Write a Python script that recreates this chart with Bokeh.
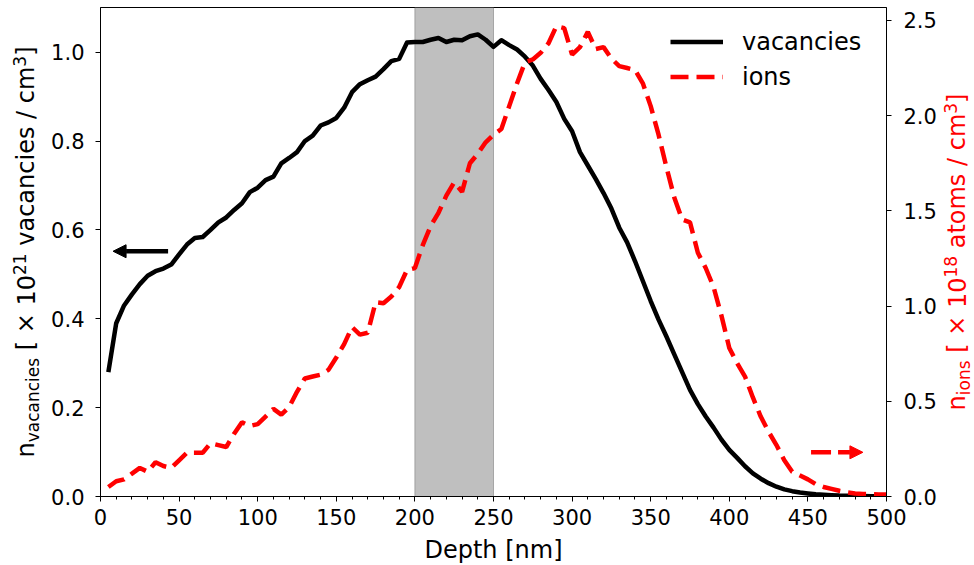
import math
from bokeh.plotting import figure
from bokeh.layouts import row
from bokeh.models import (Range1d, LinearAxis, FixedTicker, SingleIntervalTicker,
                          PrintfTickFormatter, BoxAnnotation, Arrow, NormalHead,
                          Legend, LegendItem, Label)
from bokeh.embed import file_html
from bokeh.resources import INLINE

# ---------------- data ----------------
depth_nm = [5, 10, 15, 20, 25, 30, 35, 40, 45, 50,
            55, 60, 65, 70, 75, 80, 85, 90, 95, 100,
            105, 110, 115, 120, 125, 130, 135, 140, 145, 150,
            155, 160, 165, 170, 175, 180, 185, 190, 195, 200,
            205, 210, 215, 220, 225, 230, 235, 240, 245, 250,
            255, 260, 265, 270, 275, 280, 285, 290, 295, 300,
            305, 310, 315, 320, 325, 330, 335, 340, 345, 350,
            355, 360, 365, 370, 375, 380, 385, 390, 395, 400,
            405, 410, 415, 420, 425, 430, 435, 440, 445, 450,
            455, 460, 465, 470, 475, 480, 485, 490, 495, 500]

vacancies = [0.280, 0.390, 0.430, 0.455, 0.478, 0.497, 0.507, 0.513, 0.522, 0.545,
             0.567, 0.582, 0.584, 0.600, 0.617, 0.628, 0.645, 0.660, 0.685, 0.695,
             0.712, 0.720, 0.750, 0.762, 0.775, 0.800, 0.812, 0.835, 0.842, 0.852,
             0.875, 0.910, 0.928, 0.937, 0.945, 0.962, 0.980, 0.985, 1.022, 1.023,
             1.023, 1.028, 1.032, 1.023, 1.028, 1.027, 1.036, 1.040, 1.028, 1.012,
             1.027, 1.016, 1.006, 0.990, 0.970, 0.940, 0.915, 0.888, 0.850, 0.822,
             0.775, 0.745, 0.715, 0.683, 0.648, 0.605, 0.572, 0.530, 0.485, 0.440,
             0.398, 0.360, 0.320, 0.280, 0.240, 0.208, 0.180, 0.155, 0.128, 0.105,
             0.087, 0.068, 0.052, 0.040, 0.030, 0.022, 0.016, 0.012, 0.009, 0.007,
             0.005, 0.004, 0.003, 0.002, 0.0015, 0.001, 0.001, 0.0005, 0.0003, 0.0002]

ions = [0.05, 0.08, 0.09, 0.12, 0.15, 0.13, 0.18, 0.16, 0.15, 0.19,
        0.23, 0.23, 0.23, 0.28, 0.27, 0.26, 0.33, 0.39, 0.37, 0.38,
        0.42, 0.46, 0.43, 0.47, 0.55, 0.62, 0.63, 0.64, 0.665, 0.73,
        0.80, 0.89, 0.85, 0.86, 1.02, 1.015, 1.05, 1.10, 1.19, 1.20,
        1.32, 1.42, 1.49, 1.58, 1.65, 1.60, 1.75, 1.80, 1.86, 1.90,
        1.93, 2.05, 2.17, 2.28, 2.295, 2.33, 2.38, 2.47, 2.46, 2.32,
        2.36, 2.44, 2.35, 2.36, 2.30, 2.26, 2.25, 2.24, 2.17, 2.05,
        1.90, 1.73, 1.57, 1.455, 1.44, 1.28, 1.20, 1.10, 0.95, 0.78,
        0.70, 0.63, 0.52, 0.42, 0.34, 0.27, 0.19, 0.13, 0.11, 0.09,
        0.065, 0.05, 0.04, 0.03, 0.022, 0.016, 0.013, 0.012, 0.010, 0.010]

left_ticks = [0.0, 0.2, 0.4, 0.6, 0.8, 1.0]
right_ticks = [0.0, 0.5, 1.0, 1.5, 2.0, 2.5]
shaded_span = (200, 250)
series_labels = ["vacancies", "ions"]

# ---------------- styling ----------------
FONT = "DejaVu Sans"
TICK_FS = "21px"
LABEL_FS = 24
SMALL_FS = 17
RED = "#ff0000"
FRAME_W, FRAME_H = 786, 489
FRAME_TOP, FRAME_BOTTOM = 7, 60
LEFT_W, RIGHT_W = 44, 34

p = figure(frame_width=FRAME_W, frame_height=FRAME_H,
           output_backend="svg", toolbar_location=None,
           x_range=Range1d(0, 500), y_range=Range1d(0, 1.1006),
           min_border_left=100 - LEFT_W, min_border_right=52,
           min_border_top=FRAME_TOP, min_border_bottom=FRAME_BOTTOM)
p.extra_y_ranges = {"ions": Range1d(0, 2.568)}
p.grid.visible = False
p.outline_line_color = "black"
p.outline_line_width = 1
p.outline_line_alpha = 1
p.background_fill_color = "white"
p.border_fill_color = "white"

# shaded region
p.add_layout(BoxAnnotation(left=shaded_span[0], right=shaded_span[1],
                           fill_color="#808080", fill_alpha=0.5,
                           line_color="#808080", line_alpha=0.6, line_width=1,
                           level="underlay"))

r_vac = p.line(depth_nm, vacancies, line_color="black", line_width=4.5,
               line_join="round")
r_ion = p.line(depth_nm, ions, line_color=RED, line_width=4.5,
               line_dash="18 8", y_range_name="ions")

# axes
xa = p.xaxis[0]
xa.ticker = SingleIntervalTicker(interval=50, num_minor_ticks=5)
xa.axis_label = "Depth [nm]"
xa.axis_label_text_font = FONT
xa.axis_label_text_font_size = f"{LABEL_FS}px"
xa.axis_label_text_font_style = "normal"
xa.axis_label_text_color = "black"
xa.axis_label_standoff = 8
ya = p.yaxis[0]
ya.ticker = FixedTicker(ticks=left_ticks)
ya.formatter = PrintfTickFormatter(format="%.1f")

ra = LinearAxis(y_range_name="ions", ticker=FixedTicker(ticks=right_ticks),
                formatter=PrintfTickFormatter(format="%.1f"))
p.add_layout(ra, "right")

for ax in (xa, ya, ra):
    ax.major_label_text_font = FONT
    ax.major_label_text_font_size = TICK_FS
    ax.major_label_text_color = "black"
    ax.axis_line_color = "black"
    ax.major_tick_line_color = "black"
    ax.minor_tick_line_color = "black"
    ax.major_tick_in = 0
    ax.major_tick_out = 5
    ax.minor_tick_in = 0
    ax.minor_tick_out = 3
    ax.major_label_standoff = 7
ya.minor_tick_out = 0
ra.minor_tick_out = 0
ya.major_label_standoff = 11
ra.major_label_standoff = 12

# arrows
p.add_layout(Arrow(end=NormalHead(size=13, fill_color="black", line_color="black",
                                  line_width=1),
                   x_start=43, y_start=0.552, x_end=8, y_end=0.552,
                   line_color="black", line_width=4.5))
p.add_layout(Arrow(end=NormalHead(size=13, fill_color=RED, line_color=RED,
                                  line_width=1),
                   x_start=452, y_start=0.232, x_end=485, y_end=0.232,
                   y_range_name="ions", line_color=RED, line_width=4.5,
                   line_dash="20 7"))

# legend
legend = Legend(items=[LegendItem(label=series_labels[0], renderers=[r_vac]),
                       LegendItem(label=series_labels[1], renderers=[r_ion])],
                location=(560, 392), border_line_alpha=0,
                background_fill_alpha=0, label_text_font=FONT,
                label_text_color="black",
                label_text_font_size=f"{LABEL_FS}px", glyph_width=53,
                glyph_height=35, label_height=35, label_standoff=19,
                padding=10, spacing=0, margin=0)
p.add_layout(legend)

# rotated y-axis labels with sub/superscripts (DejaVu Sans advance widths)
ADV = {' ': 0.318, 'n': 0.634, 'v': 0.592, 'a': 0.613, 'c': 0.550, 'i': 0.278,
       'e': 0.615, 's': 0.521, '[': 0.390, ']': 0.390, '\u00d7': 0.838,
       '/': 0.337, 'm': 0.974, 't': 0.392, 'o': 0.612}
MID = 0.35  # centre of the text box above the baseline, in em


def text_w(t, fs):
    return sum(ADV.get(ch, 0.636) for ch in t) * fs


def side_fig(w):
    f = figure(frame_width=w, frame_height=FRAME_H, output_backend="svg",
               toolbar_location=None, title_location=None,
               x_range=Range1d(0, w), y_range=Range1d(0, FRAME_H),
               min_border_left=0, min_border_right=0,
               min_border_top=FRAME_TOP, min_border_bottom=FRAME_BOTTOM,
               x_axis_location=None, y_axis_location=None)
    f.grid.visible = False
    f.outline_line_color = None
    f.background_fill_color = "white"
    f.border_fill_color = "white"
    return f


def vlabel(fig, segments, x_base, color):
    # segments: (text, kind) kind 0 normal, 1 superscript, -1 subscript, 2 space
    sizes = [SMALL_FS if k in (1, -1) else LABEL_FS for _, k in segments]
    total = sum(text_w(t, fs) for (t, _), fs in zip(segments, sizes))
    y = FRAME_H / 2 - total / 2
    for (t, k), fs in zip(segments, sizes):
        w = text_w(t, fs)
        if k != 2:
            base = x_base + {0: 0, 1: -9, -1: 4}[k]
            fig.add_layout(Label(x=base - MID * fs, y=y + w / 2, text=t,
                                 angle=math.pi / 2, text_font=FONT,
                                 text_font_size=f"{fs}px", text_color=color,
                                 text_align="center", text_baseline="middle"))
        y += w


SP = (" ", 2)
left = side_fig(LEFT_W)
right = side_fig(RIGHT_W)
vlabel(left, [("n", 0), ("vacancies", -1), SP, ("[", 0), SP, ("\u00d7", 0), SP,
              ("10", 0), ("21", 1), SP, ("vacancies", 0), SP, ("/", 0), SP,
              ("cm", 0), ("3", 1), ("]", 0)], 34, "black")
vlabel(right, [("n", 0), ("ions", -1), SP, ("[", 0), SP, ("\u00d7", 0), SP,
               ("10", 0), ("18", 1), SP, ("atoms", 0), SP, ("/", 0), SP,
               ("cm", 0), ("3", 1), ("]", 0)], 26, RED)

layout = row(left, p, right, spacing=0)
open("out.html", "w").write(file_html(layout, INLINE))
